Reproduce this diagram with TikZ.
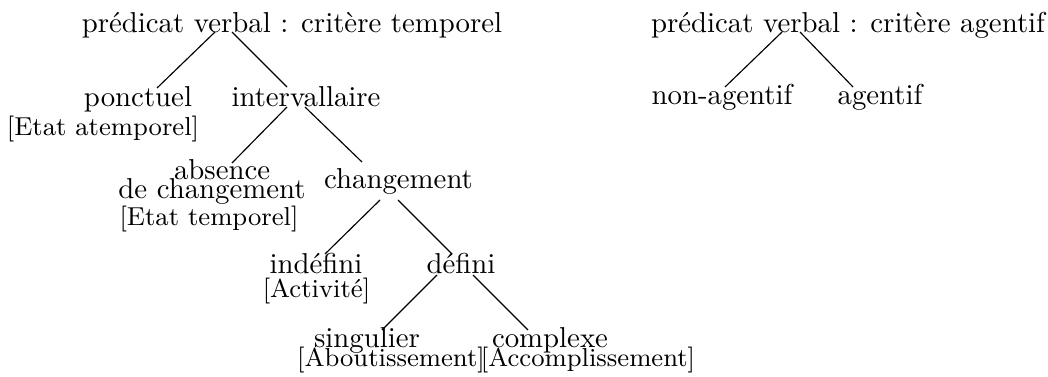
\documentclass[tikz,border=0pt]{standalone}
\usepackage{fontspec}

\begin{document}
\begin{tikzpicture}[
  x=0.3472pt, y=-0.3472pt,
  lbl/.style={anchor=base, inner sep=0pt, align=center},
  cat/.style={anchor=base, inner sep=0pt, font=\small},
  branch/.style={line width=0.4pt}
]
\useasboundingbox (0,0) rectangle (1048,376);

% Temporal criterion tree
\node[lbl] (temp) at (292,32) {prédicat verbal : critère temporel};
\node[lbl] (ponct) at (138,106) {ponctuel};
\node[cat] (ponctcat) at (103,135) {[Etat atemporel]};
\node[lbl] (inter) at (306,106) {intervallaire};
\node[lbl, anchor=north] (absence) at (212,159) {\hspace*{7pt}absence\\[-5.6pt]de changement};
\node[cat] (absencecat) at (209,225) {[Etat temporel]};
\node[lbl] (chg) at (398.5,188) {changement};
\node[lbl] (indef) at (316,273) {indéfini};
\node[cat] (indefcat) at (316.5,297) {[Activité]};
\node[lbl] (def) at (461,273) {défini};
\node[lbl] (sing) at (367,347) {singulier};
\node[cat] (singcat) at (391,366) {[Aboutissement]};
\node[lbl] (compl) at (550,347) {complexe};
\node[cat] (complcat) at (588,366) {[Accomplissement]};

% Agentive criterion tree
\node[lbl] (agt) at (848,32) {prédicat verbal : critère agentif};
\node[lbl] (nonagt) at (722,104) {non-agentif};
\node[lbl] (agtf) at (880,104) {agentif};

% Branches
\draw[branch] ([shift={(-77,0)}]temp.base) -- ([shift={(19,-18)}]ponct.base);
\draw[branch] ([shift={(-60,0)}]temp.base) -- ([shift={(-19,-19)}]inter.base);
\draw[branch] ([shift={(-19,1)}]inter.base) -- ([shift={(20,4)}]absence.north);
\draw[branch] ([shift={(-1,1)}]inter.base) -- ([shift={(-36.5,-26)}]chg.base);
\draw[branch] ([shift={(-18.5,12)}]chg.base) -- ([shift={(9,-19)}]indef.base);
\draw[branch] ([shift={(-0.5,12)}]chg.base) -- ([shift={(-9,-19)}]def.base);
\draw[branch] ([shift={(-24,2)}]def.base) -- ([shift={(15,-17)}]sing.base);
\draw[branch] ([shift={(12,2)}]def.base) -- ([shift={(-22,-17)}]compl.base);
\draw[branch] ([shift={(-66,0)}]agt.base) -- ([shift={(3,-17)}]nonagt.base);
\draw[branch] ([shift={(-48,0)}]agt.base) -- ([shift={(-27,-17)}]agtf.base);
\end{tikzpicture}
\end{document}
